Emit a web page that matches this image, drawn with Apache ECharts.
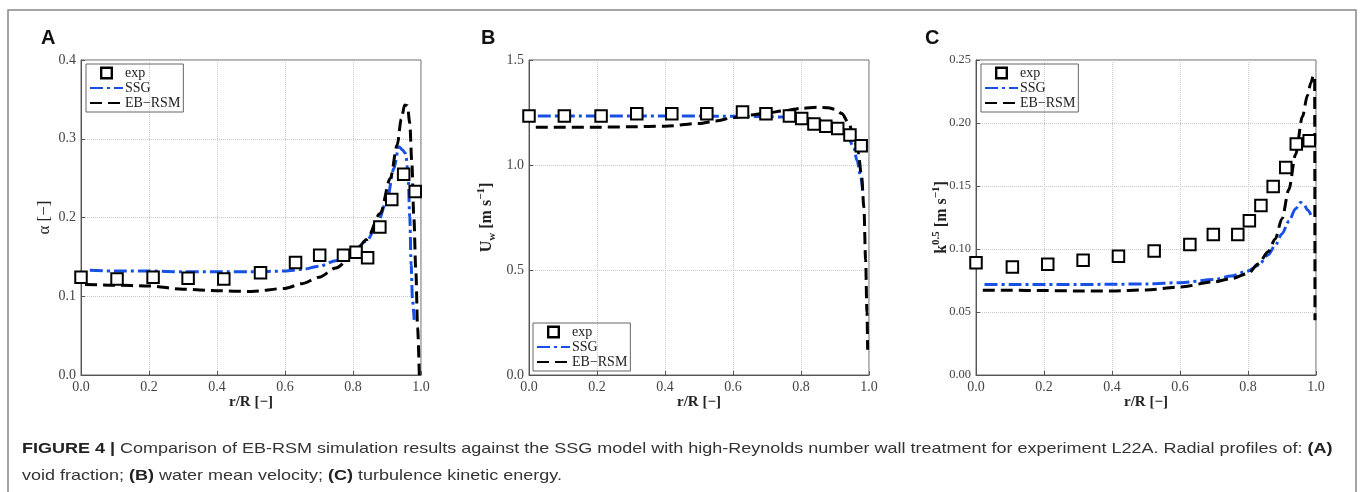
<!DOCTYPE html>
<html>
<head>
<meta charset="utf-8">
<title>Figure 4</title>
<script src="https://cdn.jsdelivr.net/npm/echarts@6/dist/echarts.min.js"></script>
<style>
  html, body { margin: 0; padding: 0; background: #fff; }
  #chart { width: 1360px; height: 492px; }
</style>
</head>
<body>
<div id="chart"></div>
<script>
// ---- data ----
// (A) void fraction
var aExpR = [0.0, 0.106, 0.212, 0.315, 0.42, 0.528, 0.631, 0.702, 0.772, 0.809, 0.843, 0.879, 0.914, 0.949, 0.983];
var aExpV = [0.124, 0.122, 0.124, 0.123, 0.122, 0.130, 0.143, 0.152, 0.152, 0.156, 0.149, 0.188, 0.223, 0.255, 0.233];
var aSsgR = [0.026, 0.1, 0.2, 0.3, 0.4, 0.5, 0.6, 0.65, 0.7, 0.75, 0.8, 0.84, 0.87, 0.9, 0.92, 0.935, 0.945, 0.955, 0.962, 0.967, 0.971, 0.975, 0.98];
var aSsgV = [0.133, 0.132, 0.132, 0.131, 0.131, 0.131, 0.132, 0.134, 0.138, 0.145, 0.157, 0.170, 0.190, 0.222, 0.262, 0.290, 0.286, 0.281, 0.255, 0.200, 0.140, 0.095, 0.070];
var aEbR = [0.012, 0.1, 0.2, 0.3, 0.4, 0.5, 0.6, 0.65, 0.7, 0.75, 0.8, 0.84, 0.88, 0.91, 0.93, 0.942, 0.952, 0.96, 0.967, 0.973, 0.979, 0.985, 0.99, 0.995];
var aEbV = [0.115, 0.114, 0.113, 0.109, 0.107, 0.106, 0.110, 0.116, 0.124, 0.136, 0.152, 0.172, 0.205, 0.250, 0.292, 0.325, 0.343, 0.342, 0.320, 0.270, 0.200, 0.130, 0.060, 0.0];

// (B) water mean velocity
var bExpR = [0.0, 0.104, 0.212, 0.317, 0.42, 0.523, 0.628, 0.697, 0.766, 0.802, 0.838, 0.873, 0.908, 0.944, 0.977];
var bExpV = [1.233, 1.233, 1.233, 1.244, 1.244, 1.244, 1.252, 1.244, 1.233, 1.222, 1.195, 1.185, 1.174, 1.143, 1.092];
var bSsgR = [0.026, 0.1, 0.2, 0.3, 0.4, 0.5, 0.6, 0.7, 0.75, 0.8, 0.85, 0.88, 0.9, 0.92, 0.94, 0.955, 0.965, 0.975, 0.982];
var bSsgV = [1.233, 1.233, 1.233, 1.233, 1.233, 1.233, 1.232, 1.230, 1.228, 1.225, 1.214, 1.205, 1.190, 1.170, 1.130, 1.080, 1.020, 0.950, 0.870];
var bEbR = [0.02, 0.1, 0.2, 0.3, 0.4, 0.5, 0.55, 0.6, 0.65, 0.7, 0.75, 0.8, 0.85, 0.88, 0.9, 0.92, 0.94, 0.955, 0.968, 0.978, 0.985, 0.99, 0.994, 0.996];
var bEbV = [1.180, 1.180, 1.180, 1.182, 1.185, 1.198, 1.210, 1.225, 1.238, 1.248, 1.258, 1.270, 1.275, 1.273, 1.265, 1.245, 1.200, 1.140, 1.060, 0.950, 0.800, 0.550, 0.300, 0.120];

// (C) turbulence kinetic energy
var cExpR = [0.0, 0.107, 0.211, 0.315, 0.419, 0.524, 0.629, 0.698, 0.77, 0.804, 0.838, 0.874, 0.911, 0.942, 0.98];
var cExpV = [0.089, 0.0858, 0.0879, 0.0911, 0.0943, 0.0985, 0.1035, 0.1115, 0.1115, 0.1224, 0.1345, 0.1496, 0.1647, 0.1833, 0.186];
var cSsgR = [0.025, 0.1, 0.2, 0.3, 0.4, 0.5, 0.6, 0.7, 0.75, 0.8, 0.83, 0.86, 0.88, 0.9, 0.92, 0.94, 0.955, 0.965, 0.975, 0.985];
var cSsgV = [0.0718, 0.0718, 0.0718, 0.0718, 0.072, 0.0723, 0.0733, 0.0757, 0.0785, 0.0826, 0.087, 0.0955, 0.103, 0.112, 0.122, 0.132, 0.137, 0.135, 0.131, 0.127];
var cEbR = [0.02, 0.1, 0.2, 0.3, 0.4, 0.5, 0.6, 0.7, 0.75, 0.8, 0.83, 0.86, 0.88, 0.9, 0.92, 0.94, 0.96, 0.975, 0.985, 0.993, 0.996, 0.997];
var cEbV = [0.0673, 0.0672, 0.067, 0.0667, 0.0667, 0.0675, 0.0699, 0.0739, 0.0765, 0.0805, 0.088, 0.098, 0.108, 0.124, 0.147, 0.175, 0.205, 0.222, 0.232, 0.238, 0.235, 0.0434];

var xTicks = [0, 0.2, 0.4, 0.6, 0.8, 1.0];
var yRangeA = [0, 0.4, 0.1];
var yRangeB = [0, 1.5, 0.5];
var yRangeC = [0, 0.25, 0.05];

var SERIF = '"Liberation Serif", "DejaVu Serif", serif';
var SANS = '"Liberation Sans", Arial, sans-serif';
var BLUE = '#1650e6';
// hollow square for the legend (outer cw, inner ccw -> hole)
var HOLLOW_SQ = 'path://M0,0H12V12H0Z M2.2,2.2V9.8H9.8V2.2Z';

function zip(xs, ys) {
    var out = [];
    for (var i = 0; i < xs.length; i++) {
        out.push([xs[i], ys[i]]);
    }
    return out;
}

var chart = echarts.init(document.getElementById('chart'));

var gridLefts = [81, 529, 976];

function makeX(idx) {
    return {
        type: 'value', gridIndex: idx,
        min: xTicks[0], max: xTicks[xTicks.length - 1], interval: 0.2,
        name: 'r/R [\u2212]', nameLocation: 'middle', nameGap: 20, nameMoveOverlap: false,
        nameTextStyle: { fontFamily: SERIF, fontWeight: 'bold', fontSize: 15, color: '#222' },
        axisLine: { lineStyle: { color: '#555', width: 1 } },
        axisTick: { inside: true, length: 4, lineStyle: { color: '#555' } },
        axisLabel: { fontFamily: SERIF, fontSize: 14, color: '#444', margin: 5,
            formatter: function (v) { return v.toFixed(1); } },
        splitLine: { show: true, lineStyle: { type: 'dotted', color: '#c8c8c8' } }
    };
}

function makeY(idx, range, name, gap, digits, rich, labelSize) {
    return {
        type: 'value', gridIndex: idx,
        min: range[0], max: range[1], interval: range[2],
        name: name, nameLocation: 'middle', nameGap: gap, nameRotate: 90, nameMoveOverlap: false,
        nameTextStyle: { fontFamily: SERIF, fontWeight: rich ? 'bold' : 'normal', fontSize: 17, color: '#222', rich: rich },
        axisLine: { lineStyle: { color: '#555', width: 1 } },
        axisTick: { inside: true, length: 4, lineStyle: { color: '#555' } },
        axisLabel: { fontFamily: SERIF, fontSize: labelSize, color: '#444', margin: 5,
            formatter: function (v) { return v.toFixed(digits); } },
        splitLine: { show: true, lineStyle: { type: 'dotted', color: '#c8c8c8' } }
    };
}

var supStyle = {
    n: { fontFamily: SERIF, fontWeight: 'bold', fontSize: 16, color: '#222', lineHeight: 22, verticalAlign: 'middle' },
    sup: { fontFamily: SERIF, fontWeight: 'bold', fontSize: 11, color: '#222', lineHeight: 22, verticalAlign: 'top' },
    sub: { fontFamily: SERIF, fontWeight: 'bold', fontSize: 11, color: '#222', lineHeight: 22, verticalAlign: 'bottom' }
};

function makeLegend(left, top) {
    return {
        orient: 'vertical', left: left, top: top,
        borderColor: '#666', borderWidth: 1, padding: [2, 3, 2, 3],
        itemGap: 1, itemWidth: 33, itemHeight: 13,
        textStyle: { fontFamily: SERIF, fontSize: 14, color: '#222', padding: [0, 0, 0, -3] },
        formatter: function (n) { return n.replace('-', '\u2212'); },
        data: [
            { name: 'exp', icon: HOLLOW_SQ, itemStyle: { color: '#000', borderWidth: 0 } },
            { name: 'SSG', itemStyle: { opacity: 0 } },
            { name: 'EB-RSM', itemStyle: { opacity: 0 } }
        ]
    };
}

function expSeries(idx, xs, ys) {
    return {
        name: 'exp', type: 'scatter', xAxisIndex: idx, yAxisIndex: idx,
        symbol: 'emptyRect', symbolSize: 11.5,
        itemStyle: { color: '#000', borderColor: '#000', borderWidth: 2.2, opacity: 1 },
        data: zip(xs, ys), z: 5
    };
}

function ssgSeries(idx, xs, ys) {
    return {
        name: 'SSG', type: 'line', xAxisIndex: idx, yAxisIndex: idx,
        symbol: 'none', smooth: 0.3, smoothMonotone: 'x',
        itemStyle: { color: BLUE },
        lineStyle: { color: BLUE, width: 3, type: [13, 4, 3, 4] },
        data: zip(xs, ys), z: 3
    };
}

function ebSeries(idx, xs, ys) {
    return {
        name: 'EB-RSM', type: 'line', xAxisIndex: idx, yAxisIndex: idx,
        symbol: 'none', smooth: 0.3, smoothMonotone: 'x',
        itemStyle: { color: '#000' },
        lineStyle: { color: '#000', width: 3, type: [12, 6] },
        data: zip(xs, ys), z: 4
    };
}

chart.setOption({
    backgroundColor: '#fff',
    animation: false,
    grid: gridLefts.map(function (l) {
        return { left: l, top: 60, width: 340, height: 315, show: true, borderColor: '#666', borderWidth: 1, backgroundColor: 'transparent' };
    }),
    xAxis: [makeX(0), makeX(1), makeX(2)],
    yAxis: [
        makeY(0, yRangeA, '\u03b1 [\u2212]', 28, 1, null, 14),
        makeY(1, yRangeB, '{n|U}{sub|w}{n| [m s}{sup|\u22121}{n|]}', 31, 1, supStyle, 14),
        makeY(2, yRangeC, '{n|k}{sup|0.5}{n| [m s}{sup|\u22121}{n|]}', 23, 2, supStyle, 12.5)
    ],
    legend: [makeLegend(86, 64), makeLegend(533, 323), makeLegend(981, 64)],
    series: [
        ebSeries(0, aEbR, aEbV), ssgSeries(0, aSsgR, aSsgV), expSeries(0, aExpR, aExpV),
        ebSeries(1, bEbR, bEbV), ssgSeries(1, bSsgR, bSsgV), expSeries(1, bExpR, bExpV),
        ebSeries(2, cEbR, cEbV), ssgSeries(2, cSsgR, cSsgV), expSeries(2, cExpR, cExpV)
    ],
    graphic: [
        { type: 'rect', shape: { x: 8, y: 10, width: 1348, height: 520 }, style: { fill: 'none', stroke: '#888', lineWidth: 1.5 }, silent: true },
        { type: 'text', left: 41, top: 28, style: { text: 'A', font: 'bold 20px ' + SANS, fill: '#111' } },
        { type: 'text', left: 481, top: 28, style: { text: 'B', font: 'bold 20px ' + SANS, fill: '#111' } },
        { type: 'text', left: 925, top: 28, style: { text: 'C', font: 'bold 20px ' + SANS, fill: '#111' } },
        {
            type: 'text', x: 22, y: 441, scaleX: 1.2,
            style: {
                text: '{b|FIGURE 4 |} Comparison of EB-RSM simulation results against the SSG model with high-Reynolds number wall treatment for experiment L22A. Radial profiles of: {b|(A)}',
                font: '15px ' + SANS, fill: '#333',
                rich: { b: { fontWeight: 'bold', fontFamily: SANS, fontSize: 15, fill: '#222' } }
            }
        },
        {
            type: 'text', x: 22, y: 468, scaleX: 1.2,
            style: {
                text: 'void fraction; {b|(B)} water mean velocity; {b|(C)} turbulence kinetic energy.',
                font: '15px ' + SANS, fill: '#333',
                rich: { b: { fontWeight: 'bold', fontFamily: SANS, fontSize: 15, fill: '#222' } }
            }
        }
    ]
});

window.onresize = function () {
    chart.resize();
};
</script>
</body>
</html>
